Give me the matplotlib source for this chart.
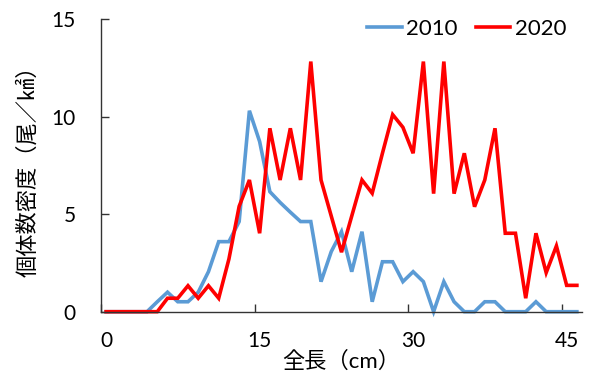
import numpy as np
import matplotlib
matplotlib.use("Agg")
import matplotlib.pyplot as plt

plt.rcParams['font.family'] = ['Lato', 'Noto Sans CJK JP', 'DejaVu Sans']

# Total length classes (cm); each value is plotted at the centre of its 1 cm class
length_cm = list(range(47))

density_2010 = [0, 0, 0, 0, 0, 0.51, 1.0, 0.51, 0.51, 1.0,
                2.05, 3.59, 3.59, 4.62, 10.3, 8.72, 6.15, 5.6, 5.1, 4.62,
                4.62, 1.54, 3.08, 4.1, 2.05, 4.1, 0.51, 2.56, 2.56, 1.54,
                2.05, 1.54, 0, 1.54, 0.51, 0, 0, 0.51, 0.51, 0,
                0, 0, 0.51, 0, 0, 0, 0]

density_2020 = [0, 0, 0, 0, 0, 0, 0.69, 0.69, 1.33, 0.69,
                1.33, 0.69, 2.7, 5.4, 6.75, 4.02, 9.4, 6.75, 9.4, 6.75,
                12.82, 6.75, 4.9, 3.05, 4.9, 6.75, 6.07, 8.12, 10.1, 9.45,
                8.12, 12.82, 6.05, 12.82, 6.05, 8.12, 5.38, 6.75, 9.4, 4.02,
                4.02, 0.69, 4.02, 2.0, 3.37, 1.35, 1.35]

series_labels = ["2010", "2020"]
x_tick_values = [0, 15, 30, 45]
y_tick_values = [0, 5, 10, 15]

fig = plt.figure(figsize=(5.92, 3.81), dpi=100)
ax = fig.add_axes([101 / 592, 1 - 311.7 / 381, 481 / 592, 292.7 / 381])

x = np.array(length_cm) + 0.5
ax.plot(x, density_2010, color="#5B9BD5", lw=2.6, label=series_labels[0],
        clip_on=False, solid_joinstyle="miter")
ax.plot(x, density_2020, color="#FF0000", lw=2.6, label=series_labels[1],
        clip_on=False, solid_joinstyle="miter")

ax.set_xlim(0, 47)
ax.set_ylim(0, 15)

axis_color = "#333333"
for side in ("top", "right"):
    ax.spines[side].set_visible(False)
for side in ("left", "bottom"):
    ax.spines[side].set_color(axis_color)
    ax.spines[side].set_linewidth(1.0)

# Category-style axis: tick marks on class boundaries, labels on class centres
ax.set_xticks(x_tick_values)
ax.set_xticklabels([""] * len(x_tick_values))
ax.set_xticks([v + 0.5 for v in x_tick_values], minor=True)
ax.set_xticklabels([str(v) for v in x_tick_values], minor=True)
ax.tick_params(axis="x", which="major", direction="in", length=6, width=1.0,
               color=axis_color)
ax.tick_params(axis="x", which="minor", length=0, pad=14, labelsize=15)

ax.set_yticks(y_tick_values)
ax.set_yticklabels([str(v) for v in y_tick_values])
ax.tick_params(axis="y", direction="in", length=6, width=1.0, color=axis_color,
               pad=18, labelsize=15)

ax.set_xlabel("全長（cm）", fontsize=16, va="center")
ax.xaxis.set_label_coords(0.5, -0.168)
ax.set_ylabel("個体数密度（尾／㎢）", fontsize=16, va="center")
ax.yaxis.set_label_coords(-0.152, 0.5)

fig.legend(loc="center right", bbox_to_anchor=(566 / 592, 1 - 29 / 381),
           ncol=2, frameon=False, fontsize=16, handlelength=1.55,
           handletextpad=0.2, columnspacing=0.8, borderpad=0,
           borderaxespad=0)

fig.savefig("out.png", dpi=100)
